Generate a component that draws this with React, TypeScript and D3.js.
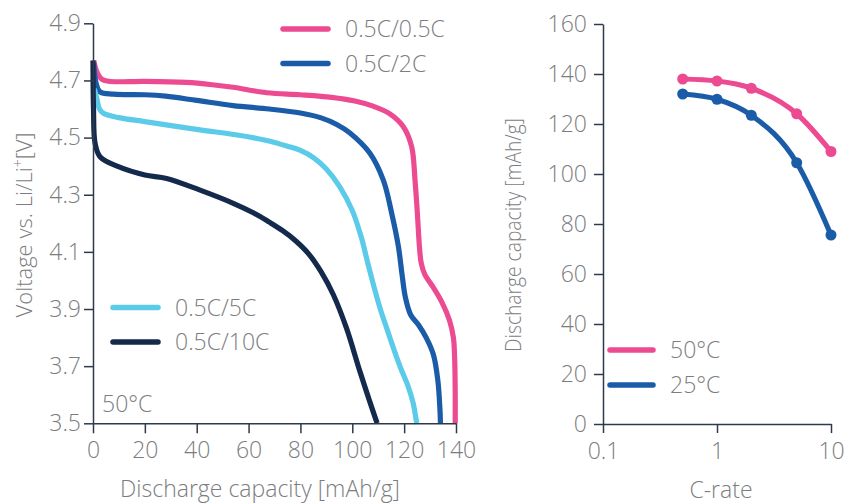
import React, { useEffect, useRef } from "react";
import * as d3 from "d3";

// left panel: discharge curves at 50°C, [capacity mAh/g, voltage V]
const curve05: [number, number][] = [
  [0.3, 4.77], [1.5, 4.73], [3.3, 4.705], [6, 4.697], [20, 4.697], [36, 4.693],
  [46, 4.685], [54, 4.676], [67, 4.657], [80, 4.65], [92, 4.641], [101, 4.628],
  [108, 4.61], [114.5, 4.583], [119.7, 4.538], [122.9, 4.468], [124.2, 4.35],
  [125.1, 4.235], [125.9, 4.118], [126.6, 4.06], [128, 4.02], [131.3, 3.975],
  [134.5, 3.925], [137.5, 3.86], [139, 3.8], [139.5, 3.72], [139.7, 3.6], [139.7, 3.5],
];
const curve2: [number, number][] = [
  [0.3, 4.76], [1.2, 4.69], [2.7, 4.66], [8, 4.652], [20, 4.65], [28, 4.645],
  [40, 4.63], [54, 4.612], [68, 4.6], [80, 4.586], [88, 4.569], [94, 4.546],
  [99.1, 4.516], [106.8, 4.445], [112, 4.35], [115.2, 4.235], [117.8, 4.118],
  [119.2, 4.02], [120.5, 3.94], [122.5, 3.88], [125.5, 3.845], [128.5, 3.8],
  [131.3, 3.74], [133, 3.65], [133.8, 3.55], [134, 3.5],
];
const curve5: [number, number][] = [
  [0.5, 4.67], [1.4, 4.64], [2.5, 4.6], [4, 4.585], [10, 4.57], [20, 4.556],
  [41.3, 4.527], [55, 4.51], [67, 4.49], [75, 4.47], [80, 4.455], [85, 4.43],
  [90, 4.39], [95, 4.33], [100, 4.245], [103.5, 4.15], [106, 4.06], [108.3, 3.98],
  [110.8, 3.9], [113.3, 3.832], [116, 3.76], [118.8, 3.69], [121.5, 3.63],
  [123.5, 3.57], [124.8, 3.505], [125, 3.5],
];
const curve10: [number, number][] = [
  [0, 4.77], [0.2, 4.6], [0.8, 4.48], [2.7, 4.433], [9.8, 4.398], [20, 4.369],
  [28.4, 4.357], [41.3, 4.316], [54.1, 4.27], [62, 4.236], [68, 4.204], [73, 4.175],
  [78, 4.14], [83, 4.095], [88, 4.03], [92.7, 3.95], [97.8, 3.832],
  [103, 3.68], [109.4, 3.505], [109.6, 3.5],
];
const voltTicks = [3.5, 3.7, 3.9, 4.1, 4.3, 4.5, 4.7, 4.9];
const capTicks = [0, 20, 40, 60, 80, 100, 120, 140];

// right panel: rate capability
const cRates = [0.5, 1, 2, 5, 10];
const cap50 = [138, 137.2, 134.3, 124.1, 109];
const cap25 = [132, 129.9, 123.5, 104.5, 75.6];
const rateTicks = [0.1, 1, 10];
const capYTicks = [0, 20, 40, 60, 80, 100, 120, 140, 160];

const PINK = "#ec4b92";
const BLUE = "#1b5ca8";
const LIGHT = "#5ccbea";
const NAVY = "#142a4c";
const AXIS = "#2c3a4a";
const TEXT = "#7c7d80";
const FONT = "'Open Sans', Lato, sans-serif";
const FS = 23;

const App = () => {
  const svgRef = useRef<SVGSVGElement>(null);

  useEffect(() => {
    const svg = d3.select(svgRef.current);
    svg.selectAll("*").remove();
    svg.attr("font-family", FONT).attr("font-weight", 300);

    const styleAxis = (g: any) => {
      g.select(".domain").attr("stroke", AXIS).attr("stroke-width", 1.5);
      g.selectAll(".tick line").attr("stroke", AXIS).attr("stroke-width", 1.5);
      g.selectAll(".tick text")
        .attr("fill", TEXT)
        .attr("font-size", FS)
        .attr("font-family", FONT)
        .attr("font-weight", 300);
    };

    // ---- left panel ----
    const x = d3.scaleLinear().domain([0, 140]).range([93, 456]);
    const y = d3.scaleLinear().domain([3.5, 4.9]).range([423.3, 23.3]);

    const line = d3
      .line<[number, number]>()
      .x((d) => x(d[0]))
      .y((d) => y(d[1]))
      .curve(d3.curveCatmullRom.alpha(0.5));

    const series = [
      { data: curve05, color: PINK },
      { data: curve2, color: BLUE },
      { data: curve5, color: LIGHT },
      { data: curve10, color: NAVY },
    ];
    series.forEach((s) => {
      svg
        .append("path")
        .datum(s.data)
        .attr("fill", "none")
        .attr("stroke", s.color)
        .attr("stroke-width", 5.2)
        .attr("stroke-linejoin", "round")
        .attr("d", line);
    });

    svg
      .append("g")
      .attr("transform", `translate(0,${y(3.5)})`)
      .call(d3.axisBottom(x).tickValues(capTicks).tickSize(10).tickSizeOuter(0).tickPadding(8))
      .call(styleAxis);
    svg
      .append("g")
      .attr("transform", `translate(${x(0)},0)`)
      .call(
        d3.axisLeft(y).tickValues(voltTicks).tickFormat(d3.format(".1f")).tickSize(9).tickSizeOuter(0).tickPadding(3)
      )
      .call(styleAxis);

    svg
      .append("text")
      .attr("x", 260)
      .attr("y", 497)
      .attr("text-anchor", "middle")
      .attr("fill", TEXT)
      .attr("font-size", FS)
      .text("Discharge capacity [mAh/g]");

    const yTitle = svg
      .append("text")
      .attr("transform", "translate(32,225) rotate(-90)")
      .attr("text-anchor", "middle")
      .attr("fill", TEXT)
      .attr("font-size", 22);
    yTitle.append("tspan").text("Voltage vs. Li/Li");
    yTitle.append("tspan").attr("baseline-shift", "super").attr("font-size", 14).text("+");
    yTitle.append("tspan").text("[V]");

    svg
      .append("text")
      .attr("x", 102)
      .attr("y", 412)
      .attr("fill", TEXT)
      .attr("font-size", FS)
      .text("50°C");

    const leftLegend = [
      { label: "0.5C/0.5C", color: PINK, lx: 283, ly: 29 },
      { label: "0.5C/2C", color: BLUE, lx: 283, ly: 63.5 },
      { label: "0.5C/5C", color: LIGHT, lx: 113, ly: 307.5 },
      { label: "0.5C/10C", color: NAVY, lx: 113, ly: 342 },
    ];
    leftLegend.forEach((l) => {
      svg
        .append("line")
        .attr("x1", l.lx)
        .attr("x2", l.lx + 45)
        .attr("y1", l.ly)
        .attr("y2", l.ly)
        .attr("stroke", l.color)
        .attr("stroke-width", 5.5)
        .attr("stroke-linecap", "round");
      svg
        .append("text")
        .attr("x", l.lx + 62)
        .attr("y", l.ly + 8)
        .attr("fill", TEXT)
        .attr("font-size", FS)
        .text(l.label);
    });

    // ---- right panel ----
    const xr = d3.scaleLog().domain([0.1, 10]).range([603, 831]);
    const yr = d3.scaleLinear().domain([0, 160]).range([424, 24]);

    const rateLine = d3
      .line<number>()
      .x((d, i) => xr(cRates[i]))
      .y((d) => yr(d))
      .curve(d3.curveMonotoneX);

    const rateSeries = [
      { data: cap25, color: BLUE },
      { data: cap50, color: PINK },
    ];
    rateSeries.forEach((s) => {
      svg
        .append("path")
        .datum(s.data)
        .attr("fill", "none")
        .attr("stroke", s.color)
        .attr("stroke-width", 5.2)
        .attr("d", rateLine);
      svg
        .append("g")
        .selectAll("circle")
        .data(s.data)
        .join("circle")
        .attr("cx", (d, i) => xr(cRates[i]))
        .attr("cy", (d) => yr(d))
        .attr("r", 5.5)
        .attr("fill", s.color);
    });

    svg
      .append("g")
      .attr("transform", `translate(0,${yr(0)})`)
      .call(
        d3
          .axisBottom(xr)
          .tickValues(rateTicks)
          .tickFormat((d: any) => String(d))
          .tickSize(9)
          .tickSizeOuter(0)
          .tickPadding(10)
      )
      .call(styleAxis);
    svg
      .append("g")
      .attr("transform", `translate(${xr(0.1)},0)`)
      .call(d3.axisLeft(yr).tickValues(capYTicks).tickSize(9).tickSizeOuter(0).tickPadding(7))
      .call(styleAxis);

    svg
      .append("text")
      .attr("x", 721)
      .attr("y", 498)
      .attr("text-anchor", "middle")
      .attr("fill", TEXT)
      .attr("font-size", FS)
      .text("C-rate");

    svg
      .append("text")
      .attr("transform", "translate(521,235) rotate(-90)")
      .attr("text-anchor", "middle")
      .attr("fill", TEXT)
      .attr("font-size", 22)
      .attr("textLength", 234)
      .attr("lengthAdjust", "spacingAndGlyphs")
      .text("Discharge capacity [mAh/g]");

    const rightLegend = [
      { label: "50°C", color: PINK, ly: 350 },
      { label: "25°C", color: BLUE, ly: 385 },
    ];
    rightLegend.forEach((l) => {
      svg
        .append("line")
        .attr("x1", 610)
        .attr("x2", 653)
        .attr("y1", l.ly)
        .attr("y2", l.ly)
        .attr("stroke", l.color)
        .attr("stroke-width", 5.5)
        .attr("stroke-linecap", "round");
      svg
        .append("text")
        .attr("x", 670)
        .attr("y", l.ly + 8)
        .attr("fill", TEXT)
        .attr("font-size", FS)
        .text(l.label);
    });
  }, []);

  return (
    <svg
      ref={svgRef}
      width={852}
      height={504}
      style={{ position: "absolute", left: 0, top: 0, background: "#fff" }}
    ></svg>
  );
};

export default App;
